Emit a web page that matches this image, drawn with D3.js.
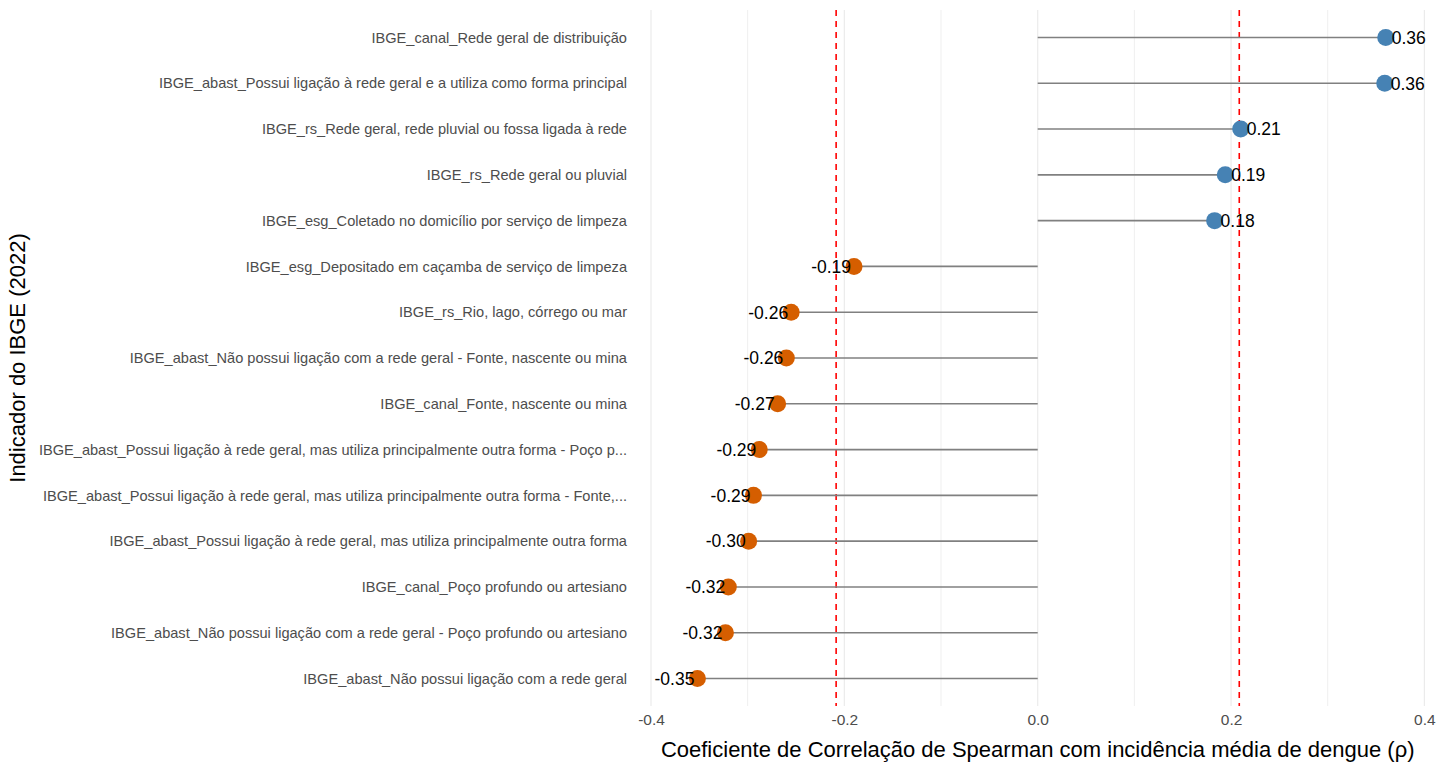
<!DOCTYPE html>
<html lang="pt">
<head>
<meta charset="UTF-8">
<title>Correlação de Spearman - indicadores IBGE</title>
<script src="https://d3js.org/d3.v7.min.js"></script>
<style>
  body { margin: 0; background: #fff; font-family: "Liberation Sans", Arial, sans-serif; }
  svg { display: block; }
  .ytick text { fill: #4d4d4d; font-size: 14.6px; }
  .xtick text { fill: #4d4d4d; font-size: 15.5px; }
  .grid-major { stroke: #ebebeb; stroke-width: 1.2; }
  .grid-minor { stroke: #efefef; stroke-width: 1; }
</style>
</head>
<body>
<script>
// indicadores, de cima para baixo
const indicators = [
  "IBGE_canal_Rede geral de distribuição",
  "IBGE_abast_Possui ligação à rede geral e a utiliza como forma principal",
  "IBGE_rs_Rede geral, rede pluvial ou fossa ligada à rede",
  "IBGE_rs_Rede geral ou pluvial",
  "IBGE_esg_Coletado no domicílio por serviço de limpeza",
  "IBGE_esg_Depositado em caçamba de serviço de limpeza",
  "IBGE_rs_Rio, lago, córrego ou mar",
  "IBGE_abast_Não possui ligação com a rede geral - Fonte, nascente ou mina",
  "IBGE_canal_Fonte, nascente ou mina",
  "IBGE_abast_Possui ligação à rede geral, mas utiliza principalmente outra forma - Poço p...",
  "IBGE_abast_Possui ligação à rede geral, mas utiliza principalmente outra forma - Fonte,...",
  "IBGE_abast_Possui ligação à rede geral, mas utiliza principalmente outra forma",
  "IBGE_canal_Poço profundo ou artesiano",
  "IBGE_abast_Não possui ligação com a rede geral - Poço profundo ou artesiano",
  "IBGE_abast_Não possui ligação com a rede geral"
];
const rho = [0.360, 0.359, 0.210, 0.194, 0.183, -0.190, -0.255, -0.260, -0.269,
             -0.288, -0.294, -0.299, -0.320, -0.323, -0.352];
const threshold = 0.2085;
const xTicks = [-0.4, -0.2, 0.0, 0.2, 0.4];
const xMinor = [-0.3, -0.1, 0.1, 0.3];

const W = 1455, H = 765;
const m = { left: 637, right: 30, top: 10, bottom: 59 };

const svg = d3.select("body").append("svg").attr("width", W).attr("height", H);

const x = d3.scaleLinear().domain([-0.4, 0.4]).range([651, 1424.4]);
const y = d3.scalePoint().domain(indicators).range([m.top, H - m.bottom]).padding(0.6);

// grades verticais
svg.selectAll(".grid-minor").data(xMinor).join("line")
  .attr("class", "grid-minor")
  .attr("x1", d => x(d)).attr("x2", d => x(d))
  .attr("y1", m.top).attr("y2", H - m.bottom);
svg.selectAll(".grid-major").data(xTicks).join("line")
  .attr("class", "grid-major")
  .attr("x1", d => x(d)).attr("x2", d => x(d))
  .attr("y1", m.top).attr("y2", H - m.bottom);

// eixos
const yAxis = svg.append("g").attr("class", "ytick")
  .attr("transform", `translate(${m.left - 6},0)`)
  .call(d3.axisLeft(y).tickSize(0).tickPadding(4));
yAxis.select(".domain").remove();

const xAxis = svg.append("g").attr("class", "xtick")
  .attr("transform", `translate(0,${H - m.bottom})`)
  .call(d3.axisBottom(x).tickValues(xTicks).tickSize(0).tickPadding(8));
xAxis.select(".domain").remove();
xAxis.selectAll("text").text(d => d3.format(".1f")(d).replace("−", "-"));
d3.selectAll(".ytick, .xtick").attr("font-family", null).attr("font-size", null);

// linhas tracejadas
svg.selectAll(".thr").data([-threshold, threshold]).join("line")
  .attr("x1", d => x(d)).attr("x2", d => x(d))
  .attr("y1", m.top).attr("y2", H - m.bottom)
  .attr("stroke", "#ff0000").attr("stroke-width", 1.6)
  .attr("stroke-dasharray", "6,5");

const data = indicators.map((k, i) => ({ k, v: rho[i] }));

// hastes
svg.selectAll(".seg").data(data).join("line")
  .attr("x1", x(0)).attr("x2", d => x(d.v))
  .attr("y1", d => y(d.k)).attr("y2", d => y(d.k))
  .attr("stroke", "#808080").attr("stroke-width", 1.6);

// pontos
svg.selectAll(".pt").data(data).join("circle")
  .attr("cx", d => x(d.v)).attr("cy", d => y(d.k)).attr("r", 8.5)
  .attr("fill", d => d.v > 0 ? "#4682B4" : "#D55E00");

// rótulos
svg.selectAll(".lbl").data(data).join("text")
  .attr("x", d => x(d.v) + (d.v > 0 ? 6 : -3))
  .attr("y", d => y(d.k))
  .attr("dy", "0.36em")
  .attr("text-anchor", d => d.v > 0 ? "start" : "end")
  .attr("font-size", 17.5).attr("fill", "#000")
  .text(d => d3.format(".2f")(d.v).replace("−", "-"));

// títulos
svg.append("text")
  .attr("x", (x(-0.4) + x(0.4)) / 2).attr("y", H - 8)
  .attr("text-anchor", "middle").attr("font-size", 22).attr("fill", "#000")
  .text("Coeficiente de Correlação de Spearman com incidência média de dengue (ρ)");

svg.append("text")
  .attr("transform", `translate(25,${(m.top + H - m.bottom) / 2}) rotate(-90)`)
  .attr("text-anchor", "middle").attr("font-size", 22).attr("fill", "#000")
  .text("Indicador do IBGE (2022)");
</script>
</body>
</html>
